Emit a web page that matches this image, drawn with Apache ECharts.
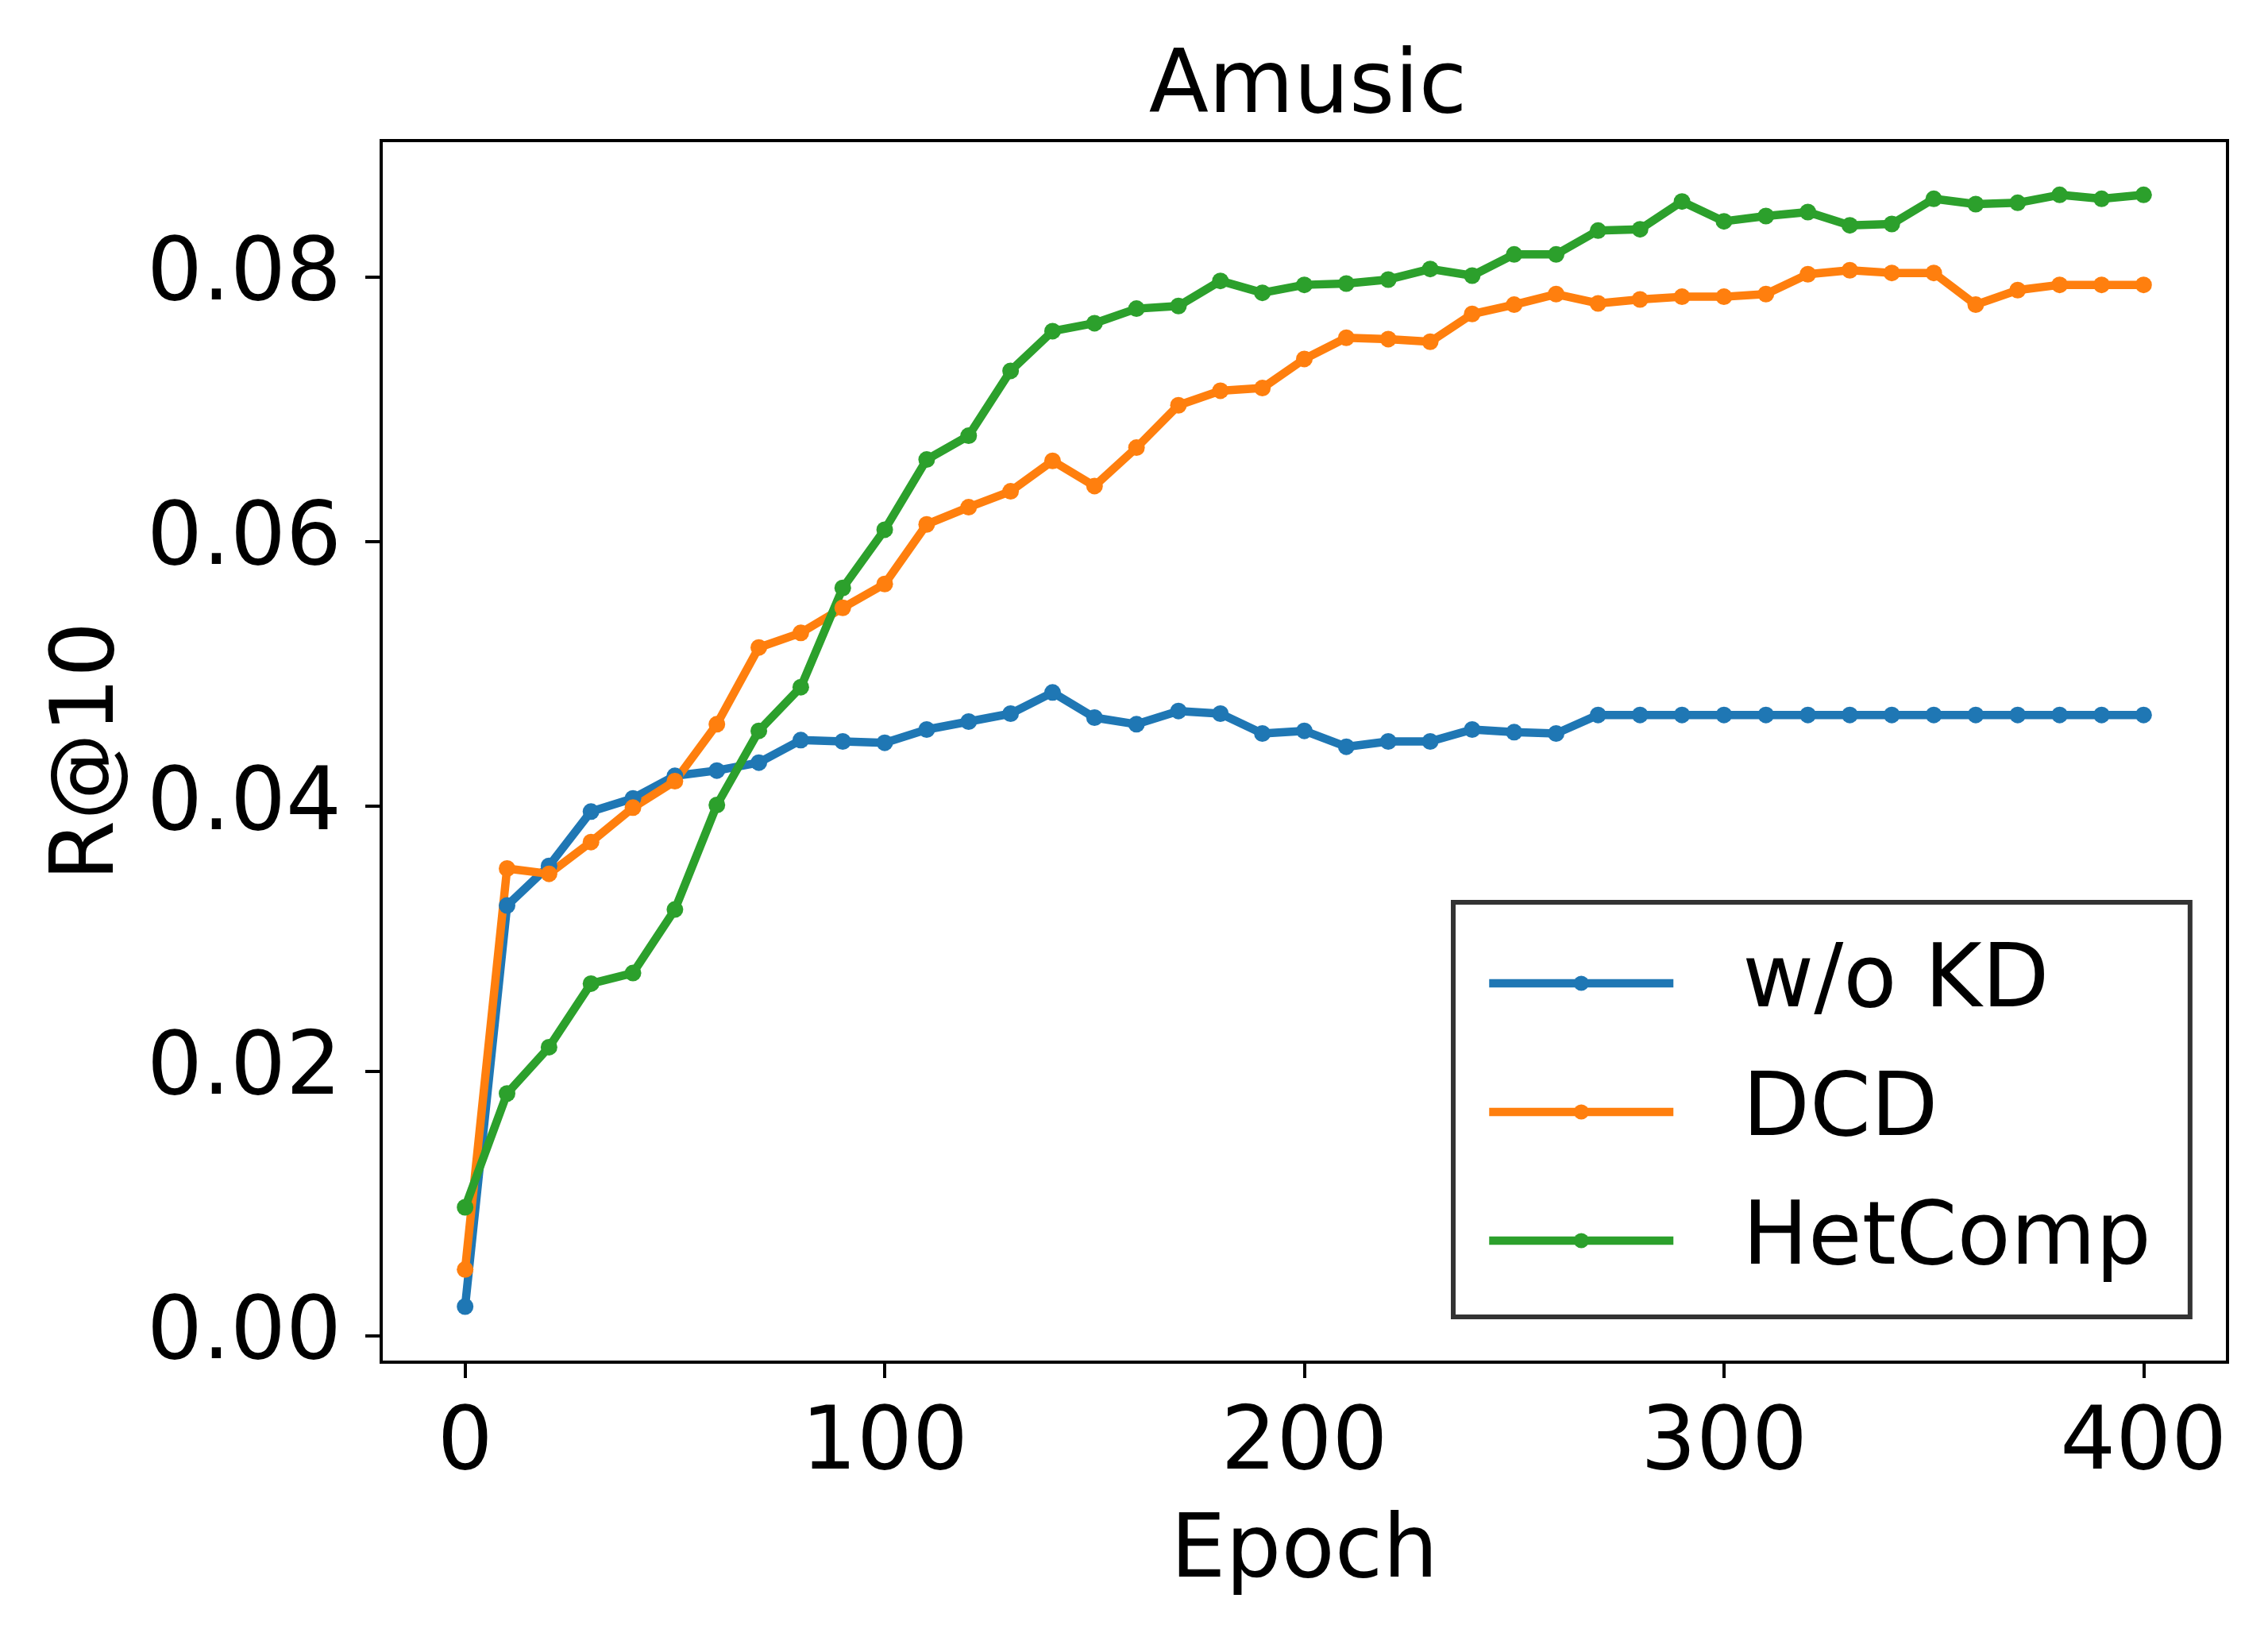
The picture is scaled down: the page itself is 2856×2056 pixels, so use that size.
<!DOCTYPE html>
<html lang="en">
<head>
    <meta charset="UTF-8">
    <title>Amusic</title>
    <script src="https://cdn.jsdelivr.net/npm/echarts@6/dist/echarts.min.js"></script>
    <style>
        html, body { margin: 0; padding: 0; background: #fff; }
        #chart { width: 2856px; height: 2056px; }
    </style>
</head>
<body>
<div id="chart"></div>
<script>
    // epochs 0..400 step 10
    let epochs = [0, 10, 20, 30, 40, 50, 60, 70, 80, 90, 100, 110, 120, 130, 140, 150, 160, 170, 180, 190, 200,
        210, 220, 230, 240, 250, 260, 270, 280, 290, 300, 310, 320, 330, 340, 350, 360, 370, 380, 390, 400];

    let woKD = [0.0022, 0.0325, 0.0355, 0.0396, 0.0406, 0.0423, 0.0427, 0.0433, 0.0450, 0.0449, 0.0448,
        0.0458, 0.0464, 0.0470, 0.0486, 0.0467, 0.0462, 0.0472, 0.0470, 0.0455, 0.0457,
        0.0445, 0.0449, 0.0449, 0.0458, 0.0456, 0.0455, 0.0469, 0.0469, 0.0469, 0.0469,
        0.0469, 0.0469, 0.0469, 0.0469, 0.0469, 0.0469, 0.0469, 0.0469, 0.0469, 0.0469];

    let dcd = [0.0050, 0.0353, 0.0349, 0.0373, 0.0399, 0.0419, 0.0462, 0.0520, 0.0531, 0.0550, 0.0568,
        0.0613, 0.0626, 0.0638, 0.0661, 0.0642, 0.0671, 0.0703, 0.0714, 0.0716, 0.0738,
        0.0754, 0.0753, 0.0751, 0.0772, 0.0779, 0.0787, 0.0780, 0.0783, 0.0785, 0.0785,
        0.0787, 0.0802, 0.0805, 0.0803, 0.0803, 0.0779, 0.0790, 0.0794, 0.0794, 0.0794];

    let hetComp = [0.0097, 0.0183, 0.0218, 0.0266, 0.0274, 0.0322, 0.0401, 0.0457, 0.0490, 0.0565, 0.0609,
        0.0662, 0.0680, 0.0729, 0.0759, 0.0765, 0.0776, 0.0778, 0.0797, 0.0788, 0.0794,
        0.0795, 0.0798, 0.0806, 0.0801, 0.0817, 0.0817, 0.0835, 0.0836, 0.0857, 0.0842,
        0.0846, 0.0849, 0.0839, 0.0840, 0.0859, 0.0855, 0.0856, 0.0862, 0.0859, 0.0862];

    let seriesNames = ['w/o KD', 'DCD', 'HetComp'];
    let seriesColors = ['#1f77b4', '#ff7f0e', '#2ca02c'];
    let xTicks = [0, 100, 200, 300, 400];
    let yTicks = [0, 0.02, 0.04, 0.06, 0.08];

    let font = 'DejaVu Sans';
    let fs = 110;

    function pairs(ys) {
        return epochs.map(function (x, i) { return [x, ys[i]]; });
    }

    function lineSeries(name, ys, color) {
        return {
            name: name,
            type: 'line',
            data: pairs(ys),
            symbol: 'circle',
            symbolSize: 21,
            showSymbol: true,
            color: color,
            lineStyle: {width: 10.5, color: color},
            itemStyle: {color: color},
            emphasis: {disabled: true}
        };
    }

    let myChart = echarts.init(document.getElementById('chart'), null, {renderer: 'canvas'});
    let option = {
        animation: false,
        backgroundColor: '#fff',
        title: {
            text: 'Amusic',
            left: 1642,
            top: 52,
            textAlign: 'center',
            textStyle: {fontFamily: font, fontSize: fs, fontWeight: 'normal', color: '#000'}
        },
        grid: {
            left: 480, right: 51, top: 177, bottom: 341,
            show: true, borderColor: '#000', borderWidth: 4, backgroundColor: 'transparent'
        },
        legend: {
            orient: 'vertical',
            left: 1830,
            top: 1136,
            padding: [47, 49, 41, 40],
            itemWidth: 232,
            itemHeight: 24,
            itemGap: 52,
            borderColor: '#333',
            borderWidth: 6,
            borderRadius: 0,
            backgroundColor: '#fff',
            data: seriesNames,
            lineStyle: {width: 10.5},
            textStyle: {fontFamily: font, fontSize: fs, color: '#000', lineHeight: 110, padding: [0, 0, 0, 82]}
        },
        xAxis: {
            type: 'value',
            min: -20,
            max: 420,
            name: 'Epoch',
            nameLocation: 'middle',
            nameGap: 186,
            nameTextStyle: {fontFamily: font, fontSize: fs, color: '#000'},
            splitLine: {show: false},
            axisLine: {show: true, onZero: false, lineStyle: {color: '#000', width: 4}},
            axisTick: {show: true, length: 20, lineStyle: {color: '#000', width: 4}, customValues: xTicks},
            axisLabel: {
                fontFamily: font, fontSize: fs, color: '#000', margin: 50,
                customValues: xTicks,
                formatter: function (v) { return String(v); }
            }
        },
        yAxis: {
            type: 'value',
            min: -0.002,
            max: 0.0903,
            name: 'R@10',
            nameLocation: 'middle',
            nameGap: 312,
            nameRotate: 90,
            nameTextStyle: {fontFamily: font, fontSize: fs, color: '#000'},
            splitLine: {show: false},
            axisLine: {show: true, onZero: false, lineStyle: {color: '#000', width: 4}},
            axisTick: {show: true, length: 20, lineStyle: {color: '#000', width: 4}, customValues: yTicks},
            axisLabel: {
                fontFamily: font, fontSize: fs, color: '#000', margin: 50,
                customValues: yTicks,
                formatter: function (v) { return v.toFixed(2); }
            }
        },
        series: [
            lineSeries(seriesNames[0], woKD, seriesColors[0]),
            lineSeries(seriesNames[1], dcd, seriesColors[1]),
            lineSeries(seriesNames[2], hetComp, seriesColors[2])
        ]
    };
    myChart.setOption(option);
</script>
</body>
</html>
